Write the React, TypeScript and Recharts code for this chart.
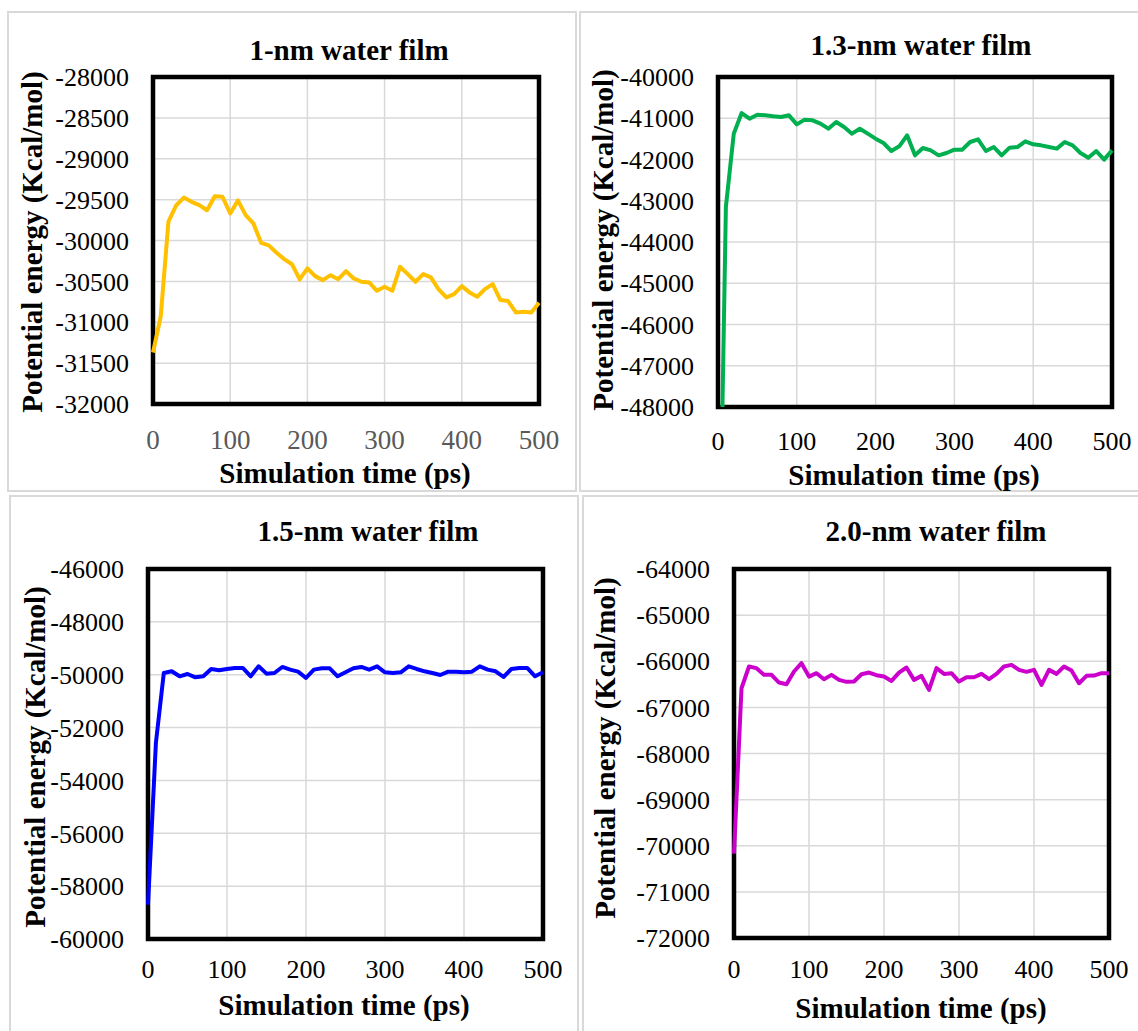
import React from "react";
import {
  LineChart,
  Line,
  XAxis,
  YAxis,
  CartesianGrid,
  ReferenceArea,
} from "recharts";

// simulation time (ps)
const TIME = [
  0, 10, 20, 30, 40, 50, 60, 70, 80, 90, 100, 110, 120, 130, 140, 150, 160,
  170, 180, 190, 200, 210, 220, 230, 240, 250, 260, 270, 280, 290, 300, 310,
  320, 330, 340, 350, 360, 370, 380, 390, 400, 410, 420, 430, 440, 450, 460,
  470, 480, 490, 500,
];

// potential energy (Kcal/mol)
const E_1NM = [
  -31370, -30930, -29770, -29570, -29475, -29527, -29568, -29630, -29458,
  -29465, -29670, -29510, -29690, -29790, -30028, -30060, -30150, -30228,
  -30290, -30476, -30342, -30436, -30485, -30424, -30473, -30375, -30464,
  -30505, -30513, -30615, -30566, -30615, -30322, -30411, -30505, -30411,
  -30452, -30599, -30696, -30656, -30558, -30635, -30688, -30595, -30534,
  -30729, -30741, -30880, -30872, -30880, -30762,
];
const E_13NM = [
  -54300, -43150, -41374, -40873, -41010, -40913, -40929, -40954, -40970,
  -40929, -41148, -41034, -41050, -41131, -41253, -41091, -41212, -41374,
  -41253, -41374, -41495, -41600, -41794, -41681, -41414, -41899, -41721,
  -41778, -41899, -41842, -41762, -41762, -41576, -41511, -41794, -41697,
  -41899, -41713, -41697, -41560, -41632, -41657, -41697, -41737, -41576,
  -41657, -41842, -41956, -41794, -42004, -41778,
];
const E_15NM = [
  -58700, -52580, -49935, -49871, -50060, -49972, -50098, -50060, -49783,
  -49834, -49783, -49745, -49745, -50060, -49682, -49960, -49935, -49707,
  -49808, -49884, -50123, -49808, -49758, -49758, -50060, -49909, -49758,
  -49707, -49808, -49682, -49909, -49935, -49909, -49682, -49783, -49871,
  -49935, -50010, -49884, -49884, -49909, -49884, -49682, -49808, -49871,
  -50086, -49783, -49745, -49745, -50060, -49909,
];
const E_20NM = [
  -70170, -66585, -66114, -66150, -66295, -66295, -66462, -66498, -66223,
  -66042, -66332, -66259, -66390, -66295, -66404, -66447, -66440, -66281,
  -66245, -66303, -66332, -66426, -66245, -66136, -66404, -66317, -66621,
  -66150, -66274, -66259, -66440, -66346, -66346, -66274, -66390, -66274,
  -66114, -66078, -66187, -66230, -66187, -66513, -66187, -66274, -66114,
  -66201, -66476, -66317, -66310, -66259, -66259,
];

const X_TICKS = [0, 100, 200, 300, 400, 500];
const Y_TICKS_1NM = [
  -32000, -31500, -31000, -30500, -30000, -29500, -29000, -28500, -28000,
];
const Y_TICKS_13NM = [
  -48000, -47000, -46000, -45000, -44000, -43000, -42000, -41000, -40000,
];
const Y_TICKS_15NM = [-60000, -58000, -56000, -54000, -52000, -50000, -48000, -46000];
const Y_TICKS_20NM = [
  -72000, -71000, -70000, -69000, -68000, -67000, -66000, -65000, -64000,
];

const FONT =
  '"Liberation Serif", Tinos, "Times New Roman", Times, "DejaVu Serif", "Noto Serif", serif';

type Rect = { x: number; y: number; w: number; h: number };

interface PanelProps {
  frame: Rect;
  plot: Rect;
  title: string;
  titleX: number;
  titleY: number;
  xLabelX: number;
  xLabelY: number;
  yLabelX: number;
  yLabelY: number;
  values: number[];
  yTicks: number[];
  color: string;
  xTickColor: string;
  xTickSize: number;
  xTickMargin: number;
}

const Y_AXIS_W = 60;
const X_AXIS_H = 50;

function Panel(p: PanelProps) {
  const data = TIME.map((t, i) => ({ t, e: p.values[i] }));
  const yMin = p.yTicks[0];
  const yMax = p.yTicks[p.yTicks.length - 1];
  const chartW = p.plot.x + p.plot.w + 20 - p.frame.x;
  const chartH = p.frame.h;
  const margin = {
    top: p.plot.y - p.frame.y,
    left: p.plot.x - p.frame.x - Y_AXIS_W,
    right: 20,
    bottom: p.frame.y + p.frame.h - p.plot.y - p.plot.h - X_AXIS_H,
  };
  const bold: React.CSSProperties = {
    position: "absolute",
    fontFamily: FONT,
    fontWeight: "bold",
    fontSize: 29,
    lineHeight: "29px",
    whiteSpace: "nowrap",
    color: "#000",
  };

  return (
    <>
      <div
        style={{
          position: "absolute",
          left: p.frame.x,
          top: p.frame.y,
          width: p.frame.w,
          height: p.frame.h,
          border: "2px solid #d9d9d9",
          boxSizing: "border-box",
        }}
      />
      <div style={{ position: "absolute", left: p.frame.x, top: p.frame.y }}>
        <LineChart width={chartW} height={chartH} data={data} margin={margin}>
          <CartesianGrid stroke="#d9d9d9" strokeWidth={1.5} />
          <XAxis
            type="number"
            dataKey="t"
            domain={[0, 500]}
            ticks={X_TICKS}
            height={X_AXIS_H}
            axisLine={false}
            tickLine={false}
            tickSize={0}
            tickMargin={p.xTickMargin}
            interval={0}
            tick={{ fill: p.xTickColor, fontSize: p.xTickSize, fontFamily: FONT }}
          />
          <YAxis
            type="number"
            domain={[yMin, yMax]}
            ticks={p.yTicks}
            allowDataOverflow
            width={Y_AXIS_W}
            axisLine={false}
            tickLine={false}
            tickSize={0}
            tickMargin={24}
            interval={0}
            tick={{ fill: "#000", fontSize: 26, fontFamily: FONT }}
          />
          <Line
            type="linear"
            dataKey="e"
            stroke={p.color}
            strokeWidth={4}
            strokeLinejoin="round"
            dot={false}
            activeDot={false}
            isAnimationActive={false}
          />
          <ReferenceArea
            x1={0}
            x2={500}
            y1={yMin}
            y2={yMax}
            fill="none"
            stroke="#000"
            strokeWidth={4.5}
          />
        </LineChart>
      </div>
      <div
        style={{
          ...bold,
          left: p.titleX,
          top: p.titleY - 14.5,
          transform: "translateX(-50%)",
        }}
      >
        {p.title}
      </div>
      <div
        style={{
          ...bold,
          left: p.xLabelX,
          top: p.xLabelY - 14.5,
          transform: "translateX(-50%)",
        }}
      >
        Simulation time (ps)
      </div>
      <div
        style={{
          ...bold,
          left: p.yLabelX,
          top: p.yLabelY,
          transform: "translate(-50%, -50%) rotate(-90deg)",
        }}
      >
        Potential energy (Kcal/mol)
      </div>
    </>
  );
}

export default function App() {
  return (
    <div
      style={{
        position: "absolute",
        left: 0,
        top: 0,
        width: 1138,
        height: 1031,
        overflow: "hidden",
        background: "#fff",
      }}
    >
      <Panel
        frame={{ x: 7, y: 11, w: 570, h: 481 }}
        plot={{ x: 153, y: 77, w: 386, h: 327 }}
        title="1-nm water film"
        titleX={349}
        titleY={50}
        xLabelX={345}
        xLabelY={473}
        yLabelX={32}
        yLabelY={242}
        values={E_1NM}
        yTicks={Y_TICKS_1NM}
        color="#FFC000"
        xTickColor="#595959"
        xTickSize={27}
        xTickMargin={26}
      />
      <Panel
        frame={{ x: 579, y: 11, w: 580, h: 481 }}
        plot={{ x: 718, y: 77, w: 394, h: 330 }}
        title="1.3-nm water film"
        titleX={921}
        titleY={45}
        xLabelX={914}
        xLabelY={475}
        yLabelX={603}
        yLabelY={240}
        values={E_13NM}
        yTicks={Y_TICKS_13NM}
        color="#00B050"
        xTickColor="#000"
        xTickSize={26}
        xTickMargin={25}
      />
      <Panel
        frame={{ x: 9, y: 495, w: 570, h: 560 }}
        plot={{ x: 148, y: 569, w: 395, h: 370 }}
        title="1.5-nm water film"
        titleX={368}
        titleY={531}
        xLabelX={344}
        xLabelY={1005}
        yLabelX={35}
        yLabelY={757}
        values={E_15NM}
        yTicks={Y_TICKS_15NM}
        color="#0000FF"
        xTickColor="#000"
        xTickSize={26}
        xTickMargin={21}
      />
      <Panel
        frame={{ x: 582, y: 495, w: 580, h: 560 }}
        plot={{ x: 734, y: 569, w: 375, h: 369 }}
        title="2.0-nm water film"
        titleX={936}
        titleY={531}
        xLabelX={921}
        xLabelY={1008}
        yLabelX={605}
        yLabelY={748}
        values={E_20NM}
        yTicks={Y_TICKS_20NM}
        color="#CC00CC"
        xTickColor="#000"
        xTickSize={26}
        xTickMargin={22}
      />
    </div>
  );
}
